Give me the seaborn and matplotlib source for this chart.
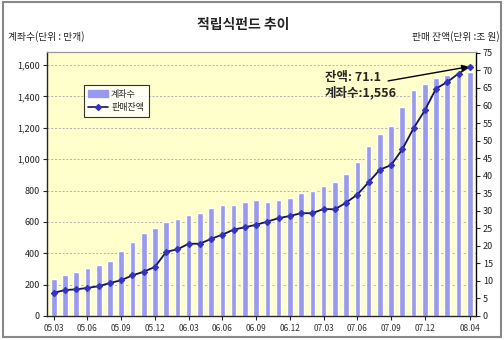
import numpy as np
import pandas as pd
import matplotlib
matplotlib.use("Agg")
import matplotlib.pyplot as plt
import matplotlib.patches as mpatches
from matplotlib.lines import Line2D
import seaborn as sns

months = ["05.03", "05.04", "05.05", "05.06", "05.07", "05.08", "05.09", "05.10", "05.11", "05.12",
          "06.01", "06.02", "06.03", "06.04", "06.05", "06.06", "06.07", "06.08", "06.09", "06.10",
          "06.11", "06.12", "07.01", "07.02", "07.03", "07.04", "07.05", "07.06", "07.07", "07.08",
          "07.09", "07.10", "07.11", "07.12", "08.01", "08.02", "08.03", "08.04"]
accounts = [236, 261, 283, 308, 323, 349, 417, 472, 527, 563,
            597, 618, 644, 659, 690, 706, 709, 725, 741, 729,
            741, 750, 782, 799, 829, 852, 904, 984, 1086, 1159,
            1214, 1331, 1441, 1478, 1516, 1537, 1550, 1556]
balance = [6.6, 7.4, 7.6, 8.0, 8.5, 9.4, 10.2, 11.6, 12.6, 14.0,
           18.3, 19.0, 20.6, 20.6, 22.0, 23.2, 24.6, 25.3, 26.0, 26.9,
           27.9, 28.5, 29.3, 29.3, 30.5, 30.4, 32.3, 34.6, 38.1, 41.7,
           43.0, 47.5, 53.5, 58.6, 64.8, 66.7, 69.1, 71.1]
tick_labels = ["05.03", "05.06", "05.09", "05.12", "06.03", "06.06", "06.09",
               "06.12", "07.03", "07.06", "07.09", "07.12", "08.04"]
left_ticks = [0, 200, 400, 600, 800, 1000, 1200, 1400, 1600]
right_ticks = [0, 5, 10, 15, 20, 25, 30, 35, 40, 45, 50, 55, 60, 65, 70, 75]

title = "적립식펀드 추이"
left_label = "계좌수(단위 : 만개)"
right_label = "판매 잔액(단위 :조 원)"
series_bar = "계좌수"
series_line = "판매잔액"
note1 = "잔액: 71.1"
note2 = "계좌수:1,556"

sns.set_style("white")
plt.rcParams["font.family"] = ["Noto Sans CJK KR", "DejaVu Sans"]

df = pd.DataFrame({"month": months, "accounts": accounts, "balance": balance})
df["pos"] = np.arange(len(df))

fig = plt.figure(figsize=(5.04, 3.40), dpi=100)
fig.patch.set_facecolor("white")
ax = fig.add_axes([0.0933, 0.0706, 0.851, 0.777])
ax.set_facecolor("#FFFFCC")

bar_color = "#9999EE"
line_color = "#14145e"
marker_color = "#3333BB"

sns.barplot(data=df, x="month", y="accounts", color=bar_color, saturation=1,
            width=0.5, ax=ax, zorder=2)
ax.set_xlim(-0.6, len(months) - 0.45)
ax.set_ylim(0, 1685)
ax.set_yticks(left_ticks)
ax.set_yticklabels([f"{v:,}" for v in left_ticks], fontsize=6.5, color="#222222")
tick_pos = [months.index(t) for t in tick_labels]
ax.set_xticks(tick_pos)
ax.set_xticklabels(tick_labels, fontsize=6, color="#333333")
ax.set_xlabel("")
ax.set_ylabel("")
for v in left_ticks[1:]:
    ax.axhline(v, color="#aaaaaa", lw=0.6, ls=(0, (2.5, 2)), zorder=1)
ax.tick_params(axis="y", direction="out", length=3, width=0.8, pad=2, left=True)
ax.tick_params(axis="x", direction="out", length=3, width=0.8, pad=3, bottom=True)
for s in ["left", "bottom"]:
    ax.spines[s].set_color("black")
    ax.spines[s].set_linewidth(0.9)
ax.spines["top"].set_color("#999999")
ax.spines["right"].set_color("black")

ax2 = ax.twinx()
sns.lineplot(data=df, x="pos", y="balance", ax=ax2, color=line_color, lw=1.3,
             marker="D", markersize=3.2, markerfacecolor=marker_color,
             markeredgecolor=marker_color, zorder=3)
ax2.set_ylim(0, 75.3)
ax2.set_yticks(right_ticks)
ax2.set_yticklabels([str(v) for v in right_ticks], fontsize=6.5, color="#222222")
ax2.tick_params(axis="y", direction="out", length=3, width=0.8, pad=2, right=True)
ax2.set_ylabel("")
ax2.set_xlabel("")
ax2.spines["right"].set_color("black")
ax2.spines["right"].set_linewidth(0.9)
ax2.spines["top"].set_color("#999999")

handles = [mpatches.Patch(color=bar_color, label=series_bar),
           Line2D([0], [0], color=line_color, lw=1.2, marker="D", markersize=3,
                  markerfacecolor=marker_color, markeredgecolor=marker_color,
                  label=series_line)]
leg = ax2.legend(handles=handles, loc="upper left", bbox_to_anchor=(0.086, 0.874),
                 borderaxespad=0, fontsize=6.5, frameon=True, fancybox=False,
                 handlelength=2.2, handleheight=0.8, borderpad=0.5, labelspacing=0.5,
                 handletextpad=0.3)
leg.get_frame().set_edgecolor("black")
leg.get_frame().set_linewidth(0.8)
leg.get_frame().set_facecolor("white")

fig.text(0.482, 0.926, title, fontsize=10, fontweight="bold", ha="center", va="center")
fig.text(0.016, 0.894, left_label, fontsize=7, ha="left", va="center", color="#222222")
fig.text(0.992, 0.894, right_label, fontsize=7, ha="right", va="center", color="#222222")

fig.text(0.645, 0.771, note1, fontsize=9, fontweight="bold", ha="left", va="center")
fig.text(0.645, 0.727, note2, fontsize=9, fontweight="bold", ha="left", va="center")
ax2.annotate("", xy=(len(months) - 1, balance[-1]), xycoords="data",
             xytext=(0.770, 0.762), textcoords="figure fraction",
             arrowprops=dict(arrowstyle="-|>", color="black", lw=1.0,
                             mutation_scale=9, shrinkA=0, shrinkB=1))

fig.patches.append(mpatches.Rectangle((0.005, 0.008), 0.99, 0.985, transform=fig.transFigure,
                                      fill=False, edgecolor="#888888", lw=1.5))

fig.savefig("out.png", dpi=100)
